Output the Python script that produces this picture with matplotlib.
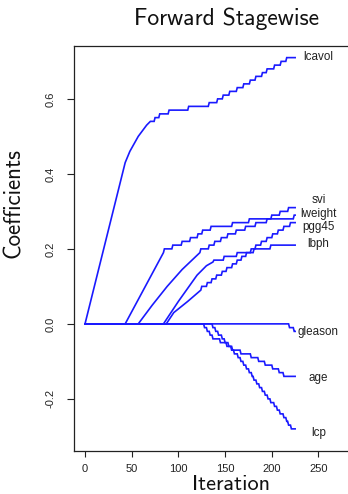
import matplotlib
matplotlib.use("Agg")
import matplotlib.pyplot as plt

# coefficient paths: (iteration, coefficient) knots
lcavol = [(0, 0), (43, .43), (48, .46), (57, .50), (66, .53), (70, .54), (74, .54), (75, .55), (79, .55),
          (80, .56), (89, .56), (90, .57), (110, .57), (111, .58), (132, .58), (133, .59), (141, .59),
          (142, .60), (147, .60), (148, .61), (154, .61), (155, .62), (162, .62), (163, .63), (169, .63),
          (170, .64), (176, .64), (177, .65), (182, .65), (183, .66), (189, .66), (190, .67), (194, .67),
          (195, .68), (202, .68), (203, .69), (209, .69), (210, .70), (215, .70), (216, .71), (225, .71)]
svi = [(0, 0), (43, 0), (84, .19), (85, .20), (93, .20), (94, .21), (103, .21), (104, .22), (112, .22),
       (113, .23), (120, .23), (121, .24), (125, .24), (126, .25), (134, .25), (135, .26), (157, .26),
       (158, .27), (175, .27), (176, .28), (199, .28), (200, .29), (208, .29), (209, .30), (217, .30),
       (218, .31), (225, .31)]
lweight = [(0, 0), (57, 0), (72, .05), (88, .10), (104, .145), (123, .19), (124, .20), (132, .20), (133, .21),
           (138, .21), (139, .22), (145, .22), (146, .23), (152, .23), (153, .24), (161, .24), (162, .25),
           (171, .25), (172, .26), (182, .26), (183, .27), (194, .27), (195, .28), (223, .28), (224, .29),
           (225, .29)]
lbph = [(0, 0), (84, 0), (100, .06), (110, .095), (120, .13), (130, .155), (137, .165), (138, .17),
        (148, .17), (149, .18), (162, .18), (163, .19), (180, .19), (181, .20), (198, .20), (199, .21),
        (225, .21)]
pgg45 = [(0, 0), (87, 0), (95, .03), (110, .06), (124, .09), (125, .10), (130, .10), (131, .11), (135, .11),
         (136, .12), (140, .12), (141, .13), (146, .13), (147, .14), (151, .14), (152, .15), (157, .15),
         (158, .16), (162, .16), (163, .17), (167, .17), (168, .18), (172, .18), (173, .19), (177, .19),
         (178, .20), (182, .20), (183, .21), (188, .21), (189, .22), (194, .22), (195, .23), (200, .23),
         (201, .24), (206, .24), (207, .25), (212, .25), (213, .26), (219, .26), (220, .27), (225, .27)]
gleason = [(0, 0), (218, 0), (219, -.01), (223, -.01), (224, -.02), (225, -.02)]
age = [(0, 0), (127, 0), (128, -.01), (130, -.01), (131, -.02), (133, -.02), (134, -.03), (136, -.03),
       (137, -.04), (144, -.04), (145, -.05), (151, -.05), (152, -.06), (157, -.06), (158, -.07), (166, -.07),
       (167, -.08), (177, -.08), (178, -.09), (185, -.09), (186, -.10), (192, -.10), (193, -.11), (200, -.11),
       (201, -.12), (207, -.12), (208, -.13), (212, -.13), (213, -.14), (225, -.14)]
lcp = [(0, 0), (136, 0), (137, -.01), (139, -.01), (140, -.02), (142, -.02), (143, -.03), (146, -.03),
       (147, -.04), (149, -.04), (150, -.05), (153, -.05), (154, -.06), (156, -.06), (157, -.07), (159, -.07),
       (160, -.08), (163, -.08), (164, -.09), (166, -.09), (167, -.10), (169, -.10), (170, -.11), (172, -.11),
       (173, -.12), (175, -.12), (176, -.13), (178, -.13), (179, -.14), (180, -.14), (181, -.15), (183, -.15),
       (184, -.16), (186, -.16), (187, -.17), (189, -.17), (190, -.18), (192, -.18), (193, -.19), (195, -.19),
       (196, -.20), (198, -.20), (199, -.21), (202, -.21), (203, -.22), (205, -.22), (206, -.23), (208, -.23),
       (209, -.24), (212, -.24), (213, -.25), (215, -.25), (216, -.26), (217, -.26), (218, -.27), (220, -.27),
       (221, -.28), (225, -.28)]

label_names = ['lcavol', 'svi', 'lweight', 'pgg45', 'lbph', 'gleason', 'age', 'lcp']
label_y = [0.712, 0.33, 0.293, 0.258, 0.213, -0.022, -0.143, -0.29]
label_x = 250
x_ticks = [0, 50, 100, 150, 200, 250]
y_ticks = [-0.2, 0.0, 0.2, 0.4, 0.6]
y_ticklabels = ['-0.2', '0.0', '0.2', '0.4', '0.6']

W, H = 348, 494
fig = plt.figure(figsize=(W / 100, H / 100), dpi=100)
ax = fig.add_axes([74 / W, 1 - 451 / H, 305 / W, 405 / H])

for path in [lcavol, svi, lweight, lbph, pgg45, gleason, age, lcp]:
    xs = [p[0] for p in path]
    ys = [p[1] for p in path]
    ax.plot(xs, ys, color='#1a1aff', lw=1.2, solid_joinstyle='miter')

for name, yv in zip(label_names, label_y):
    ax.text(label_x, yv, name, ha='center', va='center', fontsize=8.4,
            family='Liberation Sans', color='#222222')

ax.set_xlim(-11.8, 314.8)
ax.set_ylim(-0.339, 0.741)
ax.set_xticks(x_ticks)
ax.set_xticklabels([str(t) for t in x_ticks], family='Liberation Sans', fontsize=8, color='#222222')
ax.set_yticks(y_ticks)
ax.set_yticklabels(y_ticklabels, family='Liberation Sans', fontsize=8, color='#222222',
                   rotation=90, va='center')
ax.tick_params(axis='x', length=4, width=0.8, pad=5, color='#222222')
ax.tick_params(axis='y', length=5, width=0.8, pad=8, color='#222222')
for s in ax.spines.values():
    s.set_linewidth(0.9)
    s.set_color('#222222')

fig.text(226.5 / W, 1 - 25 / H, 'Forward Stagewise', ha='center', va='baseline',
         family='cmss10', fontsize=17, color='#111111')
fig.text(231 / W, 1 - 489.5 / H, 'Iteration', ha='center', va='baseline',
         family='cmss10', fontsize=16, color='#111111')
fig.text(14 / W, 1 - 203 / H, 'Coefficients', ha='center', va='center', rotation=90,
         family='cmss10', fontsize=16.5, color='#111111')

fig.savefig('out.png', dpi=100)
